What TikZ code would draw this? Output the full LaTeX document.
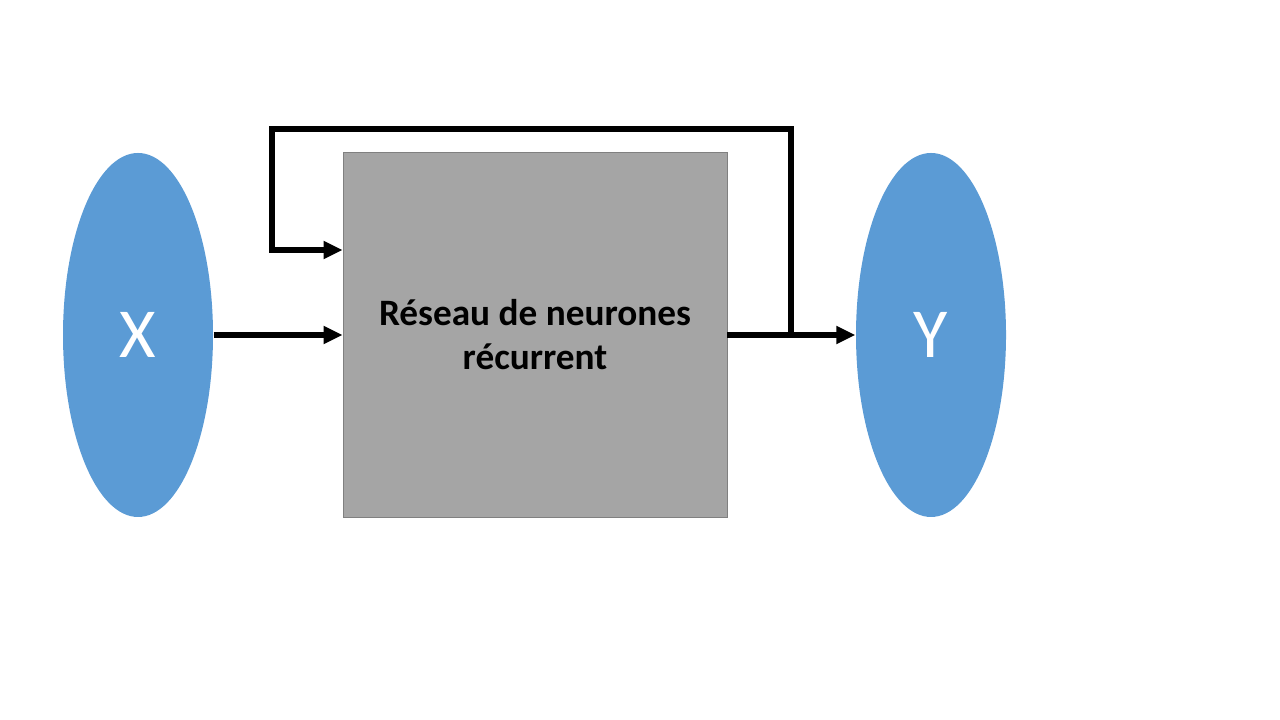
\documentclass[tikz,border=0pt]{standalone}
\usepackage{fontspec}
\setmainfont{Carlito}
\usetikzlibrary{arrows.meta,shapes.geometric}
\definecolor{ellblue}{HTML}{5B9BD5}
\definecolor{boxgray}{HTML}{A5A5A5}
\definecolor{boxedge}{HTML}{808080}
\tikzset{
  ell/.style={ellipse, fill=ellblue, draw=none, minimum width=1.50cm, minimum height=3.64cm, inner sep=0pt, text=white, font=\fontsize{20}{24}\selectfont},
  rnn/.style={rectangle, fill=boxgray, draw=boxedge, line width=0.25pt, minimum width=3.84cm, minimum height=3.65cm, inner sep=0pt, align=center, font=\bfseries\fontsize{10.6}{12.5}\selectfont},
  conn/.style={line width=1.6pt, -{Triangle[length=1.9mm,width=1.7mm]}}
}
\begin{document}
\begin{tikzpicture}[x=1cm,y=1cm]
\useasboundingbox (0,0) rectangle (12.8,7.2);
\node[ell] (X) at (1.38,3.85) {\raisebox{-0.4mm}{X}};
\node[ell] (Y) at (9.31,3.85) {\raisebox{-0.4mm}{Y}};
\node[rnn] (R) at (5.35,3.855) {Réseau de neurones\\récurrent};
\coordinate (inhigh) at (R.west |- 0,4.70);
\coordinate (split) at (7.91,3.85);
\coordinate (tr) at (7.91,5.91);
\coordinate (tl) at (2.72,5.91);
\coordinate (bl) at (2.72,4.70);
\draw[conn] (X.east) -- (R.west |- X.east);
\draw[conn] (R.east |- Y.west) -- (Y.west);
\draw[conn, line join=miter] (split) -- (tr) -- (tl) -- (bl) -- (inhigh);
\end{tikzpicture}
\end{document}
